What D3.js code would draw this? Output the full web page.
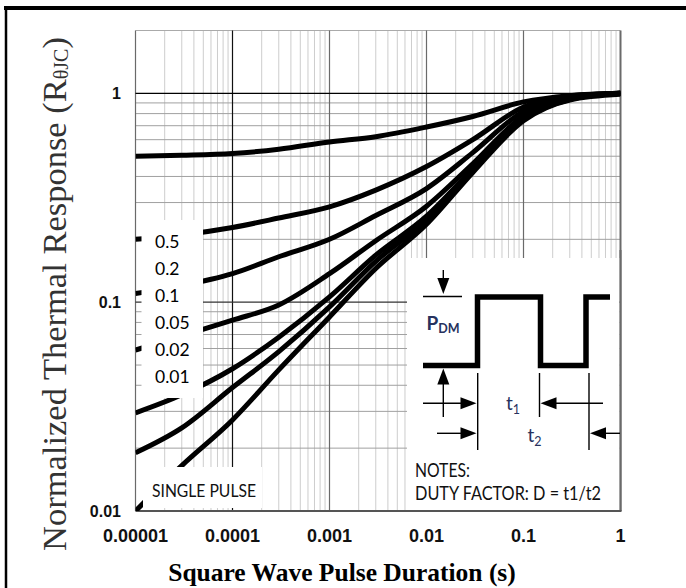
<!DOCTYPE html>
<html><head><meta charset="utf-8">
<script src="https://cdn.jsdelivr.net/npm/d3@7"></script>
<style>body{margin:0;background:#fff;}svg{display:block;}</style>
</head><body>
<svg id="chart" width="686" height="588"></svg>
<script>
// ---------- data ----------
const pulseTimes = [1e-5, 3e-5, 1e-4, 3e-4, 1e-3, 3e-3, 1e-2, 3e-2, 1e-1, 3e-1, 1];
const dutyLabels = ["0.5", "0.2", "0.1", "0.05", "0.02", "0.01"];
const curveD05 = [0.50, 0.505, 0.515, 0.54, 0.585, 0.62, 0.69, 0.775, 0.91, 0.975, 1.0];
const curveD02 = [0.20, 0.21, 0.228, 0.253, 0.286, 0.344, 0.446, 0.60, 0.86, 0.97, 1.0];
const curveD01 = [0.11, 0.12, 0.137, 0.165, 0.20, 0.26, 0.35, 0.52, 0.82, 0.96, 1.0];
const curveD005 = [0.059, 0.069, 0.082, 0.097, 0.137, 0.197, 0.288, 0.46, 0.78, 0.95, 1.0];
const curveD002 = [0.0295, 0.036, 0.048, 0.068, 0.106, 0.168, 0.258, 0.435, 0.76, 0.94, 1.0];
const curveD001 = [0.019, 0.025, 0.039, 0.058, 0.095, 0.157, 0.247, 0.427, 0.75, 0.935, 1.0];
const curveSingle = [0.010, 0.0165, 0.0273, 0.0474, 0.085, 0.145, 0.236, 0.418, 0.74, 0.93, 0.99];
const xTickValues = [1e-5, 1e-4, 1e-3, 1e-2, 1e-1, 1];
const xTickLabels = ["0.00001", "0.0001", "0.001", "0.01", "0.1", "1"];
const yTickValues = [0.01, 0.1, 1];
const yTickLabels = ["0.01", "0.1", "1"];

const series = [curveD05, curveD02, curveD01, curveD005, curveD002, curveD001, curveSingle];

// ---------- layout ----------
const svg = d3.select("#chart");
const L = 135.5, R = 620.5, T = 30.5, B = 511;
const x = d3.scaleLog().domain([1e-5, 1]).range([L, R]);
const y = d3.scaleLog().domain([0.01, 2]).range([B, T]);
const narrow = "'Liberation Sans Narrow','Arial Narrow','Liberation Sans',Arial,sans-serif";
const cal = "Lato,'Open Sans',sans-serif";

// page frame
svg.append("line").attr("x1", 4).attr("x2", 686).attr("y1", 8).attr("y2", 8).attr("stroke", "#000").attr("stroke-width", 4);
svg.append("line").attr("x1", 6).attr("x2", 6).attr("y1", 6).attr("y2", 588).attr("stroke", "#000").attr("stroke-width", 2.5);

const grid = svg.append("g");
const xMinor = [];
for (let e = -5; e < 0; e++) for (let m = 2; m <= 9; m++) xMinor.push(m * Math.pow(10, e));
grid.selectAll("line.vmin").data(xMinor).join("line")
  .attr("x1", d => x(d)).attr("x2", d => x(d)).attr("y1", T).attr("y2", B)
  .attr("stroke", "#cdcdcd").attr("stroke-width", 1);
const yMinor = [];
for (let e = -2; e < 0; e++) for (let m = 2; m <= 9; m++) yMinor.push(m * Math.pow(10, e));
grid.selectAll("line.hmin").data(yMinor).join("line")
  .attr("x1", L).attr("x2", R).attr("y1", d => y(d)).attr("y2", d => y(d))
  .attr("stroke", "#a0a0a0").attr("stroke-width", 1);
grid.append("line").attr("x1", L).attr("x2", R).attr("y1", T).attr("y2", T).attr("stroke", "#aaa").attr("stroke-width", 1);
grid.selectAll("line.vmaj").data(xTickValues).join("line")
  .attr("x1", d => x(d)).attr("x2", d => x(d)).attr("y1", T).attr("y2", B)
  .attr("stroke", d => d === 1e-4 ? "#111" : "#6a6a6a")
  .attr("stroke-width", d => d === 1 ? 2 : 1.2);
grid.selectAll("line.hmaj").data(yTickValues).join("line")
  .attr("x1", L).attr("x2", R).attr("y1", d => y(d)).attr("y2", d => y(d))
  .attr("stroke", d => d === 0.01 ? "#555" : (d === 1 ? "#000" : "#333"))
  .attr("stroke-width", d => d === 0.01 ? 2 : 1.2);

// curves
svg.append("defs").append("clipPath").attr("id", "plotClip")
  .append("rect").attr("x", L).attr("y", T).attr("width", R - L).attr("height", B - T);
const line = d3.line().x(d => x(d[0])).y(d => y(d[1])).curve(d3.curveMonotoneX);
svg.append("g").attr("clip-path", "url(#plotClip)")
  .selectAll("path").data(series).join("path")
  .attr("d", s => line(s.map((v, i) => [pulseTimes[i], v])))
  .attr("fill", "none").attr("stroke", "#000").attr("stroke-width", 5)
  .attr("stroke-linejoin", "round");

// legend box for duty factors
svg.append("rect").attr("x", 141.5).attr("y", 220).attr("width", 61.5).attr("height", 178).attr("fill", "#fff");
svg.append("g").selectAll("text").data(dutyLabels).join("text")
  .attr("x", 155).attr("y", (d, i) => 248 + i * 26.9)
  .attr("font-family", cal).attr("font-size", 17.5).attr("fill", "#000")
  .text(d => d);

// single pulse label
svg.append("rect").attr("x", 143).attr("y", 467).attr("width", 119).attr("height", 41).attr("fill", "#fff");
svg.append("text").attr("x", 152).attr("y", 497)
  .attr("font-family", cal).attr("font-size", 18).attr("fill", "#111")
  .attr("textLength", 104).attr("lengthAdjust", "spacingAndGlyphs").text("SINGLE PULSE");

// inset
const ins = svg.append("g");
ins.append("rect").attr("x", 407).attr("y", 258).attr("width", R - 1 - 407).attr("height", B - 1 - 258).attr("fill", "#fff");
ins.append("line").attr("x1", R).attr("x2", R).attr("y1", 250).attr("y2", B).attr("stroke", "#6a6a6a").attr("stroke-width", 2);
ins.append("line").attr("x1", 400).attr("x2", R + 1).attr("y1", B).attr("y2", B).attr("stroke", "#555").attr("stroke-width", 2);
ins.append("path")
  .attr("d", "M423,365.5H477.5V297H540.5V365.5H586V297H610")
  .attr("fill", "none").attr("stroke", "#000").attr("stroke-width", 5.5).attr("stroke-linejoin", "miter");
const thin = (x1, y1, x2, y2) => ins.append("line").attr("x1", x1).attr("y1", y1).attr("x2", x2).attr("y2", y2)
  .attr("stroke", "#000").attr("stroke-width", 1.4);
const head = (tx, ty, dir) => {
  const l = 16, w = 6;
  let p;
  if (dir === "down") p = [[tx, ty], [tx - w, ty - l], [tx + w, ty - l]];
  if (dir === "up") p = [[tx, ty], [tx - w, ty + l], [tx + w, ty + l]];
  if (dir === "right") p = [[tx, ty], [tx - l, ty - w], [tx - l, ty + w]];
  if (dir === "left") p = [[tx, ty], [tx + l, ty - w], [tx + l, ty + w]];
  ins.append("path").attr("d", "M" + p.map(q => q.join(",")).join("L") + "Z").attr("fill", "#000");
};
thin(423, 296.5, 462, 296.5);
thin(443.3, 270, 443.3, 285); head(443.3, 294, "down");
thin(443.3, 376, 443.3, 417); head(443.3, 368.5, "up");
thin(477.7, 373, 477.7, 450);
thin(539.5, 373, 539.5, 417);
thin(589, 373, 589, 450);
thin(423, 403.3, 465, 403.3); head(476.5, 403.3, "right");
thin(552, 403.3, 603, 403.3); head(540.5, 403.3, "left");
thin(437, 433.3, 465, 433.3); head(476.5, 433.3, "right");
thin(601, 433.3, 620, 433.3); head(590, 433.3, "left");
const navy = "#27325e";
const pdm = ins.append("text").attr("x", 426.5).attr("y", 330).attr("font-family", cal).attr("font-size", 19).attr("font-weight", "bold").attr("fill", navy);
pdm.append("tspan").text("P");
pdm.append("tspan").attr("font-size", 12.5).attr("dy", 3).text("DM");
const t1 = ins.append("text").attr("x", 506).attr("y", 410).attr("font-family", cal).attr("font-size", 19).attr("fill", navy);
t1.append("tspan").text("t");
t1.append("tspan").attr("font-size", 12.5).attr("dy", 4).text("1");
const t2 = ins.append("text").attr("x", 527.5).attr("y", 442).attr("font-family", cal).attr("font-size", 19).attr("fill", navy);
t2.append("tspan").text("t");
t2.append("tspan").attr("font-size", 12.5).attr("dy", 4).text("2");
ins.append("text").attr("x", 415).attr("y", 477).attr("font-family", cal).attr("font-size", 18.5).attr("fill", "#111")
  .attr("textLength", 55).attr("lengthAdjust", "spacingAndGlyphs").text("NOTES:");
ins.append("text").attr("x", 415).attr("y", 500).attr("font-family", cal).attr("font-size", 18.5).attr("fill", "#111")
  .attr("textLength", 186).attr("lengthAdjust", "spacingAndGlyphs").text("DUTY FACTOR: D = t1/t2");

// axis tick labels
svg.append("g").selectAll("text").data(xTickValues).join("text")
  .attr("x", d => x(d)).attr("y", 542).attr("text-anchor", "middle")
  .attr("font-family", narrow).attr("font-weight", "bold").attr("font-size", 18).attr("fill", "#111")
  .text((d, i) => xTickLabels[i]);
svg.append("g").selectAll("text").data(yTickValues).join("text")
  .attr("x", 121).attr("y", d => y(d) + 6).attr("text-anchor", "end")
  .attr("font-family", narrow).attr("font-weight", "bold").attr("font-size", 16).attr("fill", "#111")
  .text((d, i) => yTickLabels[i]);

// axis titles
svg.append("text").attr("x", 342).attr("y", 581).attr("text-anchor", "middle")
  .attr("font-family", "'Liberation Serif','Times New Roman',serif").attr("font-weight", "bold").attr("font-size", 25.5)
  .attr("fill", "#000").text("Square Wave Pulse Duration (s)");
const yt = svg.append("text").attr("transform", "translate(66,294) rotate(-90)").attr("text-anchor", "middle")
  .attr("font-family", "'Liberation Serif','Times New Roman',serif").attr("font-size", 34.5).attr("fill", "#333");
yt.append("tspan").text("Normalized Thermal Response (R");
yt.append("tspan").attr("font-size", 20).attr("dy", 2).text("θJC");
yt.append("tspan").attr("dy", -2).text(")");
</script>
</body></html>
